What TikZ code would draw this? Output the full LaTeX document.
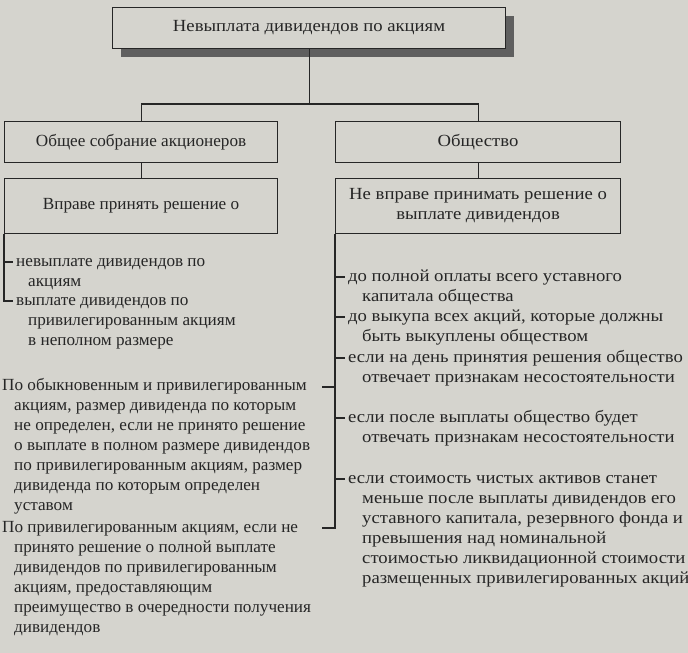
\documentclass[tikz,border=0pt]{standalone}
\usepackage{fontspec}
\setmainfont[FakeStretch=1.1]{Liberation Serif}
\newfontfamily\narrowserif[FakeStretch=1.01]{Liberation Serif}
\usetikzlibrary{shadows}
\definecolor{bg}{RGB}{213,212,206}
\definecolor{ink}{RGB}{38,38,38}
\definecolor{shade}{RGB}{95,95,95}
\begin{document}
\begin{tikzpicture}[x=1pt,y=-1pt,
  box/.style={draw=ink, fill=bg, line width=1.1pt, inner sep=0pt, anchor=north west,
    font=\fontsize{17}{20}\selectfont, text=ink, align=center},
  lbox/.style={box, font=\narrowserif\fontsize{17}{20}\selectfont},
  item/.style={font=\fontsize{17}{20}\selectfont, text=ink, align=left, inner sep=0pt, anchor=north west},
  litem/.style={item, font=\narrowserif\fontsize{17}{20}\selectfont},
  wire/.style={draw=ink, line width=1.1pt}]
\fill[bg] (0,0) rectangle (688,653);
\useasboundingbox (0,0) rectangle (688,653);

% boxes
\node[box, minimum width=393pt, minimum height=41pt,
  drop shadow={shadow xshift=8pt, shadow yshift=-8pt, fill=shade, opacity=1}]
  (top) at (112,7) {Невыплата дивидендов по акциям};
\node[lbox, minimum width=273pt, minimum height=41pt] (L1) at (4,121) {Общее собрание акционеров};
\node[box, minimum width=285pt, minimum height=41pt] (R1) at (335,121) {Общество};
\node[lbox, minimum width=273pt, minimum height=55pt] (L2) at (4,178) {Вправе принять решение о};
\node[box, minimum width=285pt, minimum height=55pt] (R2) at (335,178) {Не вправе принимать решение о\\выплате дивидендов};

% connectors at the top
\coordinate (j) at (top.south |- 0,104);
\draw[wire] (top.south) -- (j);
\draw[wire] (L1.north) -- (L1.north |- j) -- (R1.north |- j) -- (R1.north);
\draw[wire] (L1.south) -- (L2.north);
\draw[wire] (R1.south) -- (R2.north);

% left items
\node[litem] (la) at (16,252) {\strut невыплате дивидендов по\\\hspace*{12pt}акциям};
\node[litem] (lb) at (16,291) {\strut выплате дивидендов по\\\hspace*{12pt}привилегированным акциям\\\hspace*{12pt}в неполном размере};
\coordinate (la1) at ([xshift=-3pt,yshift=-10pt]la.north west);
\coordinate (lb1) at ([xshift=-3pt,yshift=-10pt]lb.north west);
\draw[wire] (L2.south west) -- (L2.south west |- lb1) -- (lb1);
\draw[wire] (L2.south west |- la1) -- (la1);

% right items
\node[item] (ra) at (348,267) {\strut до полной оплаты всего уставного\\\hspace*{14pt}капитала общества};
\node[item] (rb) at (348,307) {\strut до выкупа всех акций, которые должны\\\hspace*{14pt}быть выкуплены обществом};
\node[item] (rc) at (348,348) {\strut если на день принятия решения общество\\\hspace*{14pt}отвечает признакам несостоятельности};
\node[item] (rd) at (348,408) {\strut если после выплаты общество будет\\\hspace*{14pt}отвечать признакам несостоятельности};
\node[item] (re) at (348,469) {\strut если стоимость чистых активов станет\\\hspace*{14pt}меньше после выплаты дивидендов его\\\hspace*{14pt}уставного капитала, резервного фонда и\\\hspace*{14pt}превышения над номинальной\\\hspace*{14pt}стоимостью ликвидационной стоимости\\\hspace*{14pt}размещенных привилегированных акций};

% left bottom paragraphs
\node[litem] (pa) at (2,376) {\strut По обыкновенным и привилегированным\\\hspace*{12pt}акциям, размер дивиденда по которым\\\hspace*{12pt}не определен, если не принято решение\\\hspace*{12pt}о выплате в полном размере дивидендов\\\hspace*{12pt}по привилегированным акциям, размер\\\hspace*{12pt}дивиденда по которым определен\\\hspace*{12pt}уставом};
\node[litem] (pb) at (2,518) {\strut По привилегированным акциям, если не\\\hspace*{12pt}принято решение о полной выплате\\\hspace*{12pt}дивидендов по привилегированным\\\hspace*{12pt}акциям, предоставляющим\\\hspace*{12pt}преимущество в очередности получения\\\hspace*{12pt}дивидендов};

% right bracket
\coordinate (v) at (R2.south west);
\coordinate (pe) at (v |- 0,528);
\draw[wire] (v) -- (pe) -- ++(-13,0);
\draw[wire] (v |- 0,387) -- ++(-13,0);
\foreach \n in {ra,rb,rc,rd,re}{
  \coordinate (t\n) at ([xshift=-3pt,yshift=-10pt]\n.north west);
  \draw[wire] (v |- t\n) -- (t\n);
}
\end{tikzpicture}
\end{document}
